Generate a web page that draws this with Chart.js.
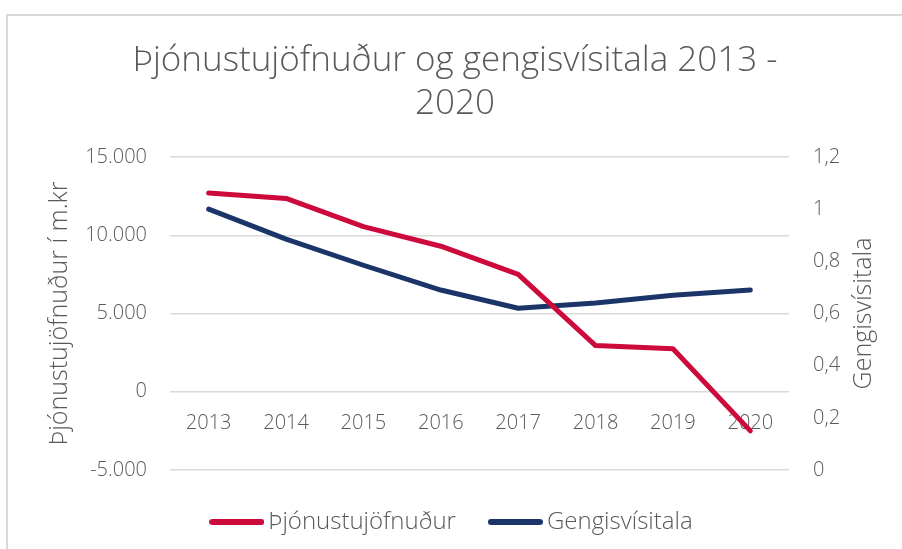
<!DOCTYPE html>
<html>
<head>
<meta charset="utf-8">
<script src="https://cdn.jsdelivr.net/npm/chart.js@4/dist/chart.umd.min.js"></script>
<style>
  html, body { margin: 0; padding: 0; background: #fff; }
  #wrap { position: relative; width: 902px; height: 549px; overflow: hidden; }
  #frame { position: absolute; left: 6px; top: 14px; width: 1000px; height: 1000px;
           border-left: 2px solid #d9d9d9; border-top: 2px solid #d9d9d9; }
  canvas { position: absolute; left: 0; top: 0; }
</style>
</head>
<body>
<div id="wrap">
  <div id="frame"></div>
  <canvas id="c" width="902" height="549"></canvas>
</div>
<script>
const years = ['2013', '2014', '2015', '2016', '2017', '2018', '2019', '2020'];
const thjonustujofnudur = [12700, 12350, 10550, 9300, 7500, 2950, 2750, -2500];
const gengisvisitala = [1.0, 0.885, 0.785, 0.69, 0.62, 0.64, 0.67, 0.69];
const leftTicks = [-5000, 0, 5000, 10000, 15000];
const rightTicks = [0, 0.2, 0.4, 0.6, 0.8, 1.0, 1.2];

const titleLines = ['Þjónustujöfnuður og gengisvísitala 2013 -', '2020'];
const leftAxisTitle = 'Þjónustujöfnuður í m.kr';
const rightAxisTitle = 'Gengisvísitala';

const RED = '#cc0a3c';
const BLUE = '#1c3569';
const GRAY = '#595959';
const FONT = '"Open Sans"';

function fmtThousands(v) {
  const s = Math.abs(v).toString().replace(/\B(?=(\d{3})+(?!\d))/g, '.');
  return (v < 0 ? '-' : '') + s;
}
function fmtDecimal(v) {
  return String(Number(v.toFixed(1))).replace('.', ',');
}

// legend marker: a short rounded line segment in the series colour
function lineMarker(color) {
  const c = document.createElement('canvas');
  c.width = 55; c.height = 6;
  const x = c.getContext('2d');
  x.fillStyle = color;
  x.beginPath();
  x.roundRect(0, 0, 55, 6, 3);
  x.fill();
  return c;
}

const rightTitlePlugin = {
  id: 'rightTitle',
  afterDraw(chart) {
    const s = chart.scales.y1;
    const ctx = chart.ctx;
    ctx.save();
    ctx.fillStyle = GRAY;
    ctx.font = '300 25px ' + FONT;
    ctx.textAlign = 'center';
    ctx.textBaseline = 'middle';
    ctx.translate(s.right - 38, (chart.chartArea.top + chart.chartArea.bottom) / 2);
    ctx.rotate(-Math.PI / 2);
    ctx.fillText(rightAxisTitle, 0, 0);
    ctx.restore();
  }
};

new Chart(document.getElementById('c'), {
  type: 'line',
  data: {
    labels: years,
    datasets: [
      {
        label: 'Þjónustujöfnuður',
        data: thjonustujofnudur,
        yAxisID: 'y',
        borderColor: RED,
        backgroundColor: RED,
        borderWidth: 5,
        borderCapStyle: 'round',
        borderJoinStyle: 'round',
        pointRadius: 0,
        tension: 0
      },
      {
        label: 'Gengisvísitala',
        data: gengisvisitala,
        yAxisID: 'y1',
        borderColor: BLUE,
        backgroundColor: BLUE,
        borderWidth: 5,
        borderCapStyle: 'round',
        borderJoinStyle: 'round',
        pointRadius: 0,
        tension: 0
      }
    ]
  },
  options: {
    responsive: false,
    animation: false,
    layout: { padding: { left: 8, right: 0, top: 0, bottom: 5 } },
    plugins: {
      title: {
        display: true,
        text: titleLines,
        color: GRAY,
        font: { family: FONT, size: 35, weight: '300', lineHeight: '43px' },
        padding: { top: 40, bottom: 31 }
      },
      legend: {
        position: 'bottom',
        fullSize: true,
        labels: {
          color: GRAY,
          font: { family: FONT, size: 24, weight: '300' },
          usePointStyle: true,
          pointStyleWidth: 39,
          boxHeight: 6,
          padding: 40,
          generateLabels(chart) {
            const items = Chart.defaults.plugins.legend.labels.generateLabels(chart);
            items.forEach((it, i) => {
              it.lineWidth = 0;
              it.strokeStyle = 'rgba(0,0,0,0)';
              it.pointStyle = lineMarker(chart.data.datasets[i].borderColor);
            });
            return items;
          }
        }
      },
      tooltip: { enabled: false }
    },
    scales: {
      x: {
        type: 'category',
        offset: true,
        position: { y: 0 },
        grid: { display: false },
        border: { display: false },
        ticks: { color: GRAY, font: { family: FONT, size: 20, weight: '300' }, padding: 12, maxRotation: 0 }
      },
      y: {
        position: 'left',
        min: -5000,
        max: 15000,
        afterBuildTicks(scale) { scale.ticks = leftTicks.map(v => ({ value: v })); },
        afterFit(scale) { scale.width = 162; },
        grid: { color: '#d9d9d9', lineWidth: 1.5, drawTicks: false },
        border: { display: false },
        ticks: {
          color: GRAY, font: { family: FONT, size: 20, weight: '300' }, padding: 23,
          callback: v => fmtThousands(v)
        },
        title: {
          display: true,
          text: leftAxisTitle,
          color: GRAY,
          font: { family: FONT, size: 25, weight: '300' },
          padding: { top: 37, bottom: 0 }
        }
      },
      y1: {
        position: 'right',
        min: 0,
        max: 1.2,
        afterBuildTicks(scale) { scale.ticks = rightTicks.map(v => ({ value: v })); },
        afterFit(scale) { scale.width = 113; },
        grid: { display: false, drawTicks: false },
        border: { display: false },
        ticks: {
          color: GRAY, font: { family: FONT, size: 20, weight: '300' }, padding: 24,
          callback: v => fmtDecimal(v)
        }
      }
    }
  },
  plugins: [rightTitlePlugin]
});
</script>
</body>
</html>
